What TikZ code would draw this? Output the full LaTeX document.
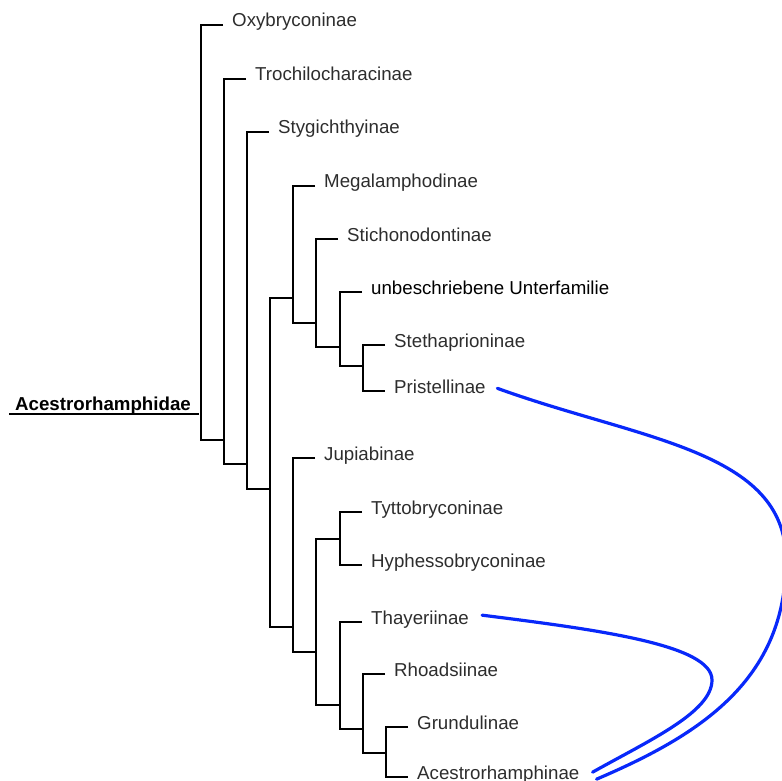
\documentclass[tikz,border=0pt]{standalone}
\usepackage{fontspec}
\setmainfont{Liberation Sans}
\usetikzlibrary{calc}
\definecolor{relinkblue}{RGB}{8,40,250}
\definecolor{taxgray}{RGB}{45,45,45}

\tikzset{
  leaf/.style={anchor=base west, inner xsep=9pt, inner ysep=0pt, text=taxgray, font=\fontsize{18.7}{22}\selectfont},
  fam/.style={anchor=base west, inner xsep=6pt, inner ysep=0pt, font=\fontsize{18.7}{22}\selectfont\bfseries},
  branch/.style={line width=1.8pt},
  lift/.style={yshift=2pt},
  relink/.style={line width=3.2pt, relinkblue, line cap=round}
}

\begin{document}
\begin{tikzpicture}[x=1pt, y=-1pt]
\useasboundingbox (0,0) rectangle (782,781);
\clip (0,0) rectangle (782,781);

%taxa
\node[fam] (fam) at (9,410) {Acestrorhamphidae};
\node[leaf] (oxy) at (223,27) {Oxybryconinae};
\node[leaf] (tro) at (246,81) {Trochilocharacinae};
\node[leaf] (sty) at (269,134) {Stygichthyinae};
\node[leaf] (meg) at (315,188) {Megalamphodinae};
\node[leaf] (sti) at (338,241) {Stichonodontinae};
\node[leaf, text=black] (unb) at (362,294) {unbeschriebene Unterfamilie};
\node[leaf] (ste) at (385,347) {Stethaprioninae};
\node[leaf] (pri) at (385,393) {Pristellinae};
\node[leaf] (jup) at (315,460) {Jupiabinae};
\node[leaf] (tyt) at (362,514) {Tyttobryconinae};
\node[leaf] (hyp) at (362,567) {Hyphessobryconinae};
\node[leaf] (tha) at (362,624) {Thayeriinae};
\node[leaf] (rho) at (385,676) {Rhoadsiinae};
\node[leaf] (gru) at (408,729) {Grundulinae};
\node[leaf] (acn) at (408,779) {Acestrorhamphinae};

%clades
\coordinate (root) at (201,414);
\coordinate (c2) at (224,440);
\coordinate (c3) at (247,464);
\coordinate (c4) at (270,489);
\coordinate (up1) at (293,298);
\coordinate (up2) at (316,323);
\coordinate (up3) at (340,347);
\coordinate (up4) at (363,366);
\coordinate (lo1) at (293,627);
\coordinate (lo2) at (316,652);
\coordinate (lo3) at (340,539);
\coordinate (lo4) at (340,705);
\coordinate (lo5) at (363,729);
\coordinate (lo6) at (386,753);

\draw[branch, shorten >=2pt] ([yshift=-4pt]fam.base west) -- (root);
\draw[branch] ([lift]oxy.base west) -| (root) |- (c2);
\draw[branch] ([lift]tro.base west) -| (c2) |- (c3);
\draw[branch] ([lift]sty.base west) -| (c3) |- (c4);
\draw[branch] (up1) -| (c4) |- (lo1);
\draw[branch] ([lift]meg.base west) -| (up1) |- (up2);
\draw[branch] ([lift]sti.base west) -| (up2) |- (up3);
\draw[branch] ([lift]unb.base west) -| (up3) |- (up4);
\draw[branch] ([lift]ste.base west) -| (up4) |- ([lift]pri.base west);
\draw[branch] ([lift]jup.base west) -| (lo1) |- (lo2);
\draw[branch] (lo3) -| (lo2) |- (lo4);
\draw[branch] ([lift]tyt.base west) -| (lo3) |- ([lift]hyp.base west);
\draw[branch] ([lift]tha.base west) -| (lo4) |- (lo5);
\draw[branch] ([lift]rho.base west) -| (lo5) |- (lo6);
\draw[branch] ([lift]gru.base west) -| (lo6) |- ([lift]acn.base west);

%moved taxa
\draw[relink] ([xshift=2.5pt,yshift=-2pt]pri.east) .. controls (640,440) and (786,450) .. (786,560)
  .. controls (786,680) and (700,735) .. ([xshift=8pt,yshift=-5pt]acn.east);
\draw[relink] ([xshift=4pt,yshift=4pt]tha.east) .. controls (600,630) and (712,645) .. (712,680)
  .. controls (712,712) and (650,740) .. ([xshift=4pt,yshift=2pt]acn.east);

\end{tikzpicture}
\end{document}
